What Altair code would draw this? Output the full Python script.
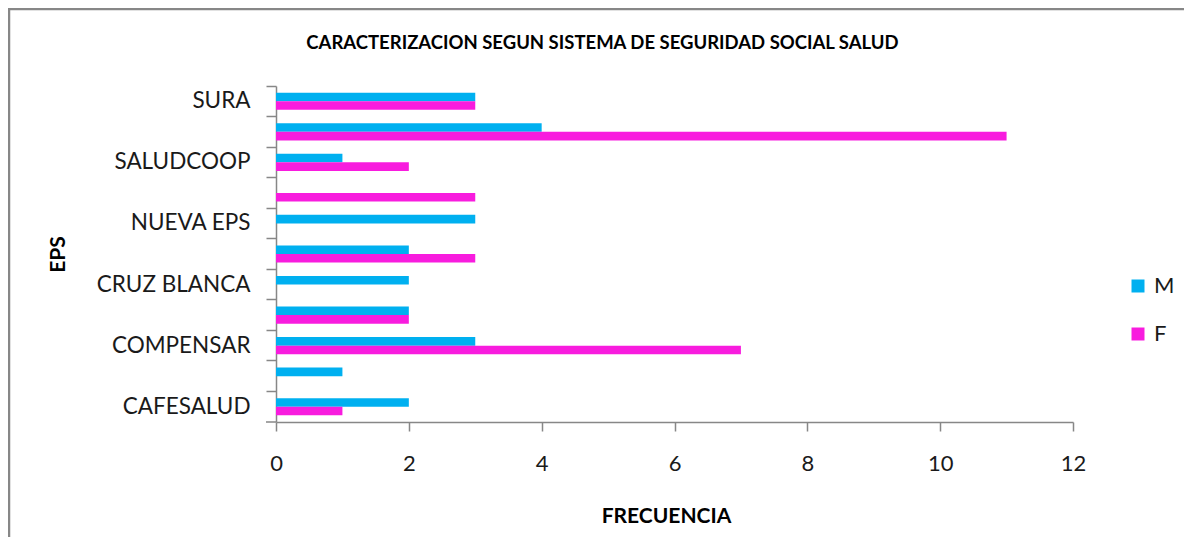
import altair as alt
import pandas as pd

# Data (bottom to top as in the reference)
eps = ["CAFESALUD", "COLSANITAS", "COMPENSAR", "COOMEVA", "CRUZ BLANCA",
       "FAMISANAR", "NUEVA EPS", "SALUD TOTAL", "SALUDCOOP", "SANITAS", "SURA"]
m_vals = [2, 1, 3, 2, 2, 2, 3, 0, 1, 4, 3]
f_vals = [1, 0, 7, 2, 0, 3, 0, 3, 2, 11, 3]
shown_labels = ["SURA", "SALUDCOOP", "NUEVA EPS", "CRUZ BLANCA", "COMPENSAR", "CAFESALUD"]
series = ["M", "F"]
colors = ["#00B0F0", "#F81CDE"]
x_ticks = [0, 2, 4, 6, 8, 10, 12]

rows = []
for e, m, f in zip(eps, m_vals, f_vals):
    rows.append({"EPS": e, "Sexo": "M", "Frecuencia": m})
    rows.append({"EPS": e, "Sexo": "F", "Frecuencia": f})
df = pd.DataFrame(rows)

W, H = 797, 336
FONT = "Lato"
GRAY = "#878787"

label_list = "[" + ",".join("'" + s + "'" for s in shown_labels) + "]"

bars = alt.Chart(df).mark_bar(size=8.6).encode(
    x=alt.X("Frecuencia:Q",
            scale=alt.Scale(domain=[0, 12], nice=False),
            axis=alt.Axis(values=x_ticks, grid=False, title="FRECUENCIA",
                          titleFont=FONT, titleFontSize=21, titleFontWeight="bold",
                          titleColor="#000000", titleX=390, titleY=100,
                          titleBaseline="alphabetic", titleAlign="center",
                          labelFont=FONT, labelFontSize=22, labelColor="#1a1a1a",
                          labelFlush=False,
                          labelPadding=22, tickSize=9, tickColor=GRAY,
                          domainColor=GRAY, domainWidth=1.5, tickWidth=1.5)),
    y=alt.Y("EPS:N", sort=list(reversed(eps)),
            scale=alt.Scale(paddingInner=0, paddingOuter=0),
            axis=alt.Axis(title="EPS", titleFont=FONT, titleFontSize=21,
                          titleFontWeight="bold", titleColor="#000000",
                          titleAngle=270, titleX=-218, titleY=168,
                          titleBaseline="middle", titleAlign="center",
                          labelFont=FONT, labelFontSize=22.5, labelColor="#1a1a1a",
                          labelExpr="indexof(" + label_list + ", datum.value) >= 0 ? datum.value : ''",
                          labelPadding=16, tickSize=10, tickColor=GRAY, tickWidth=1.5,
                          bandPosition=0, domainColor=GRAY, domainWidth=1.5)),
    yOffset=alt.YOffset("Sexo:N", sort=series,
                        scale=alt.Scale(paddingInner=0, paddingOuter=0.776)),
    color=alt.Color("Sexo:N", sort=series,
                    scale=alt.Scale(domain=series, range=colors),
                    legend=alt.Legend(title=None, orient="none", legendX=851, legendY=189,
                                      symbolType="square", symbolSize=169,
                                      symbolStrokeWidth=0, labelFont=FONT,
                                      labelFontSize=22, labelColor="#1a1a1a",
                                      labelOffset=5, rowPadding=26)),
)

frame_df = pd.DataFrame({"k": [0]})
frame = alt.Chart(frame_df).mark_rect(fill=None, stroke=GRAY, strokeWidth=2.5).encode(
    x=alt.value(-267), x2=alt.value(W + 300),
    y=alt.value(-77), y2=alt.value(H + 400),
)
bottom_tick = alt.Chart(frame_df).mark_rule(color=GRAY, strokeWidth=1.5).encode(
    x=alt.value(-10), x2=alt.value(0), y=alt.value(H),
)

chart = alt.layer(frame, bars, bottom_tick).properties(
    width=W, height=H,
    background="white",
    padding={"left": 268, "top": 78, "right": 111, "bottom": 115},
    autosize=alt.AutoSizeParams(type="none"),
    title=alt.TitleParams(
        text="CARACTERIZACION SEGUN SISTEMA DE SEGURIDAD SOCIAL SALUD",
        font=FONT, fontSize=18.5, fontWeight="bold", color="#000000",
        anchor="middle", frame="group", dx=-72, offset=0, dy=45,
    ),
).configure_view(strokeWidth=0, stroke="transparent")

chart.save("out.html", embed_options={"renderer": "svg", "actions": False})
